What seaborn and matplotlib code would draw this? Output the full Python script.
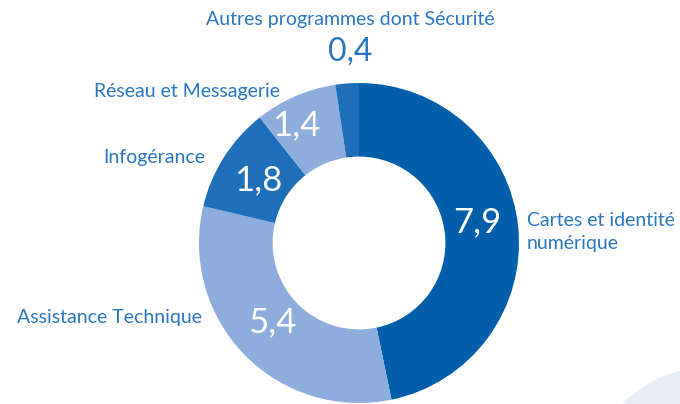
import matplotlib
matplotlib.use("Agg")
import matplotlib.pyplot as plt
import seaborn as sns
from matplotlib.patches import Circle

# données (milliards)
categories = ["Cartes et identité\nnumérique", "Assistance Technique", "Infogérance",
              "Réseau et Messagerie", "Autres programmes dont Sécurité"]
values = [7.9, 5.4, 1.8, 1.4, 0.4]
value_labels = ["7,9", "5,4", "1,8", "1,4", "0,4"]

sns.set_theme(style="white")
plt.rcParams["font.family"] = ["Lato", "DejaVu Sans"]

dark = "#005EAB"
mid = "#1F6EBA"
light = "#8DADDC"
colors = [dark, light, mid, light, mid]
text_blue = "#2A76C0"

W, H = 680, 404
fig = plt.figure(figsize=(W / 100, H / 100), dpi=100)

# cercle décoratif en bas à droite
bg = fig.add_axes([0, 0, 1, 1], zorder=0)
bg.set_xlim(0, W)
bg.set_ylim(H, 0)
bg.axis("off")
bg.add_patch(Circle((710, 490), 123, color="#E8EDF7", lw=0))

cx, cy, r = 359, 243, 160
ax = fig.add_axes([(cx - r) / W, (H - cy - r) / H, 2 * r / W, 2 * r / H], zorder=1)
ax.patch.set_alpha(0)
wedges, _ = ax.pie(values, colors=colors, startangle=90, counterclock=False,
                   radius=1, wedgeprops=dict(width=0.46, linewidth=0))
ax.set_xlim(-1, 1)
ax.set_ylim(-1, 1)
ax.set_aspect("equal")
ax.axis("off")


def d(px, py):
    return (px - cx) / r, (cy - py) / r


# valeurs dans les segments
val_pos = [(477, 222), (272, 322), (258, 180), (296, 125)]
for lab, (px, py) in zip(value_labels[:4], val_pos):
    ax.text(*d(px, py), lab, color="white", fontsize=25,
            ha="center", va="center", clip_on=False)
ax.text(*d(350, 52), value_labels[4], color=text_blue, fontsize=23,
        ha="center", va="center", clip_on=False)

# étiquettes
lab_kw = dict(color=text_blue, fontsize=14, va="center", clip_on=False)
ax.text(*d(527, 232), categories[0], ha="left", linespacing=1.45, **lab_kw)
ax.text(*d(202, 318), categories[1], ha="right", **lab_kw)
ax.text(*d(205, 158), categories[2], ha="right", **lab_kw)
ax.text(*d(280, 92), categories[3], ha="right", **lab_kw)
ax.text(*d(350, 20), categories[4], ha="center", **lab_kw)

fig.savefig("out.png", dpi=100)
